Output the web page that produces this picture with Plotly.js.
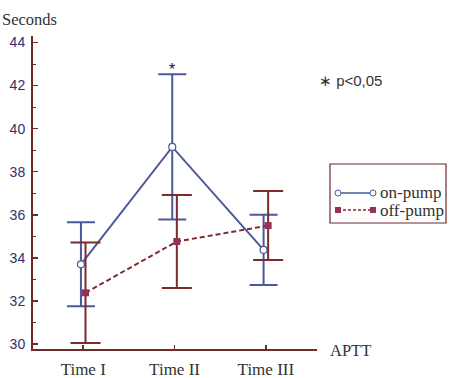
<!DOCTYPE html>
<html>
<head>
<meta charset="utf-8">
<script src="https://cdn.plot.ly/plotly-3.0.1.min.js"></script>
<style>
  html, body { margin: 0; padding: 0; background: #fff; }
  #chart { width: 455px; height: 378px; }
</style>
</head>
<body>
<div id="chart"></div>
<script>
// APTT (seconds) at three time points, mean ± error
const timePoints = ['Time I', 'Time II', 'Time III'];
const seriesNames = ['on-pump', 'off-pump'];
const onPumpMean = [33.7, 39.15, 34.37];
const onPumpErr = [1.95, 3.37, 1.63];
const offPumpMean = [32.38, 34.76, 35.5];
const offPumpErr = [2.33, 2.16, 1.6];
const yTicks = [30, 32, 34, 36, 38, 40, 42, 44];

const BLUE = '#4a589c';
const RED = '#7c2a2e';
const SQUARE = '#963058';
const AXIS = '#6e2b2b';
const NAVY = '#2e3170';
const SERIF = '"Liberation Serif", "DejaVu Serif", serif';
const SANS = '"Liberation Sans", Arial, sans-serif';

// side-by-side nudge so the two groups do not overlap
const nudge = 0.025;
const base = timePoints.map((_, i) => i + 1);

const onPump = {
  x: base.map(v => v - nudge), y: onPumpMean, name: seriesNames[0],
  type: 'scatter', mode: 'lines+markers',
  line: { color: BLUE, width: 2 },
  marker: { symbol: 'circle', size: 7, color: '#fff', line: { color: BLUE, width: 1.2 } },
  error_y: { type: 'data', array: onPumpErr, visible: true, color: BLUE, thickness: 2, width: 14 }
};
const offPump = {
  x: base.map(v => v + nudge), y: offPumpMean, name: seriesNames[1],
  type: 'scatter', mode: 'lines+markers',
  line: { color: RED, width: 2, dash: '5px,3px' },
  marker: { symbol: 'square', size: 7, color: SQUARE, line: { width: 0 } },
  error_y: { type: 'data', array: offPumpErr, visible: true, color: RED, thickness: 2, width: 15 }
};

// plot box in pixels, used to place the hand-made legend
const L = 33, R = 317, T = 36, B = 349;
const px = x => (x - L) / (R - L);
const py = y => (B - y) / (B - T);

const legendLeft = 338, legendRight = 373, rowOn = 193, rowOff = 210;
const shapes = [
  { type: 'rect', xref: 'paper', yref: 'paper', x0: px(330), x1: px(446), y0: py(223), y1: py(164),
    line: { color: AXIS, width: 1.2 }, fillcolor: 'rgba(0,0,0,0)' },
  { type: 'line', xref: 'paper', yref: 'paper', x0: px(legendLeft), x1: px(legendRight), y0: py(rowOn), y1: py(rowOn),
    line: { color: BLUE, width: 1.5 } },
  { type: 'line', xref: 'paper', yref: 'paper', x0: px(legendLeft), x1: px(legendRight), y0: py(rowOff), y1: py(rowOff),
    line: { color: RED, width: 1.5, dash: '3px,2px' } }
];
[legendLeft, legendRight].forEach(cx => {
  shapes.push({ type: 'circle', xref: 'paper', yref: 'paper',
    x0: px(cx - 3), x1: px(cx + 3), y0: py(rowOn + 3), y1: py(rowOn - 3),
    line: { color: BLUE, width: 1 }, fillcolor: '#fff' });
  shapes.push({ type: 'rect', xref: 'paper', yref: 'paper',
    x0: px(cx - 3), x1: px(cx + 3), y0: py(rowOff + 3), y1: py(rowOff - 3),
    line: { width: 0 }, fillcolor: SQUARE });
});

const annotations = [
  { text: 'Seconds', xref: 'paper', yref: 'paper', x: px(0), y: py(19), xanchor: 'left', yanchor: 'middle',
    showarrow: false, font: { family: SERIF, size: 16.5, color: '#333' } },
  { text: 'APTT', xref: 'paper', yref: 'paper', x: px(328), y: py(350), xanchor: 'left', yanchor: 'middle',
    showarrow: false, font: { family: SERIF, size: 16.5, color: '#333' } },
  { text: '∗ p<0,05', xref: 'paper', yref: 'paper', x: px(317), y: py(80), xanchor: 'left', yanchor: 'middle',
    showarrow: false, font: { family: SANS, size: 15, color: '#333' } },
  { text: '*', xref: 'x', yref: 'y', x: onPump.x[1], y: onPumpMean[1] + onPumpErr[1],
    yanchor: 'bottom', yshift: -6, showarrow: false, font: { family: SANS, size: 16, color: '#222' } },
  { text: seriesNames[0], xref: 'paper', yref: 'paper', x: px(378), y: py(rowOn - 0.5), xanchor: 'left', yanchor: 'middle',
    showarrow: false, font: { family: SERIF, size: 17, color: '#333' } },
  { text: seriesNames[1], xref: 'paper', yref: 'paper', x: px(378), y: py(rowOff), xanchor: 'left', yanchor: 'middle',
    showarrow: false, font: { family: SERIF, size: 17, color: '#333' } }
];

const layout = {
  width: 455, height: 378,
  margin: { l: L, r: 455 - R, t: T, b: 378 - B, pad: 0 },
  paper_bgcolor: '#fff', plot_bgcolor: '#fff',
  showlegend: false,
  xaxis: {
    range: [0.45, 3.56], tickvals: base, ticktext: timePoints,
    showgrid: false, zeroline: false, showline: true, linecolor: AXIS, linewidth: 2,
    ticks: 'inside', ticklen: 4, tickcolor: AXIS, tickwidth: 1.5,
    ticklabelstandoff: 4,
    tickfont: { family: SERIF, size: 17, color: '#333' }
  },
  yaxis: {
    range: [29.77, 44.3], tickvals: yTicks,
    showgrid: false, zeroline: false, showline: true, linecolor: AXIS, linewidth: 2,
    ticks: 'inside', ticklen: 5, tickcolor: AXIS, tickwidth: 1.5,
    minor: { dtick: 1, ticks: 'inside', ticklen: 3, tickcolor: AXIS, tickwidth: 1 },
    ticklabelstandoff: 3,
    tickfont: { family: SANS, size: 14, color: NAVY }
  },
  shapes: shapes,
  annotations: annotations
};

Plotly.newPlot('chart', [onPump, offPump], layout, { staticPlot: true, displayModeBar: false });
</script>
</body>
</html>
